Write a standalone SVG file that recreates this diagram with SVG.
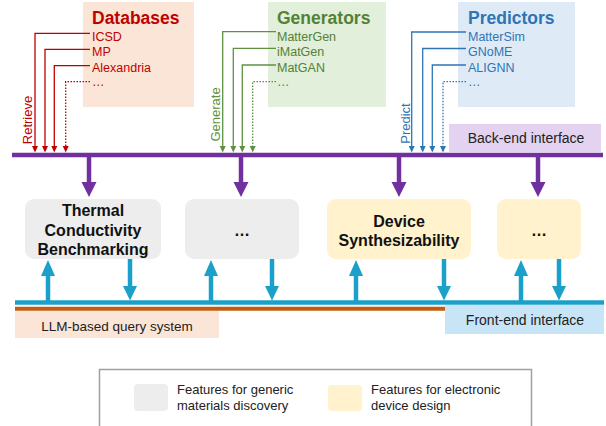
<svg xmlns="http://www.w3.org/2000/svg" width="606" height="426" viewBox="0 0 606 426">
<style>
text{font-family:"Liberation Sans",Arial,sans-serif}
.title{font-size:17.5px;font-weight:bold}
.item{font-size:12.5px}
.rot{font-size:13px}
.node{font-size:16px;font-weight:bold;fill:#111;text-anchor:middle}
.lbl{font-size:14px;fill:#222;text-anchor:middle}
.leg{font-size:13px;fill:#222}
.thin{fill:none;stroke-width:1.3}
.dot{stroke-dasharray:1.5 1.5}
.red{stroke:#c00000}
.grn{stroke:#5f9140}
.blu{stroke:#2e75b6}
.pur{stroke:#7030a0;fill:none;stroke-width:4.5}
.pfill{fill:#7030a0}
.cy{stroke:#1ba1c9;fill:none;stroke-width:4.5}
.cfill{fill:#1ba1c9}
</style>
<g id="databases">
<rect x="83" y="2" width="111" height="105" fill="#fbe5d6"/>
<text class="title" x="92" y="24" fill="#c00000">Databases</text>
<text class="item" x="92" y="40.5" fill="#c00000">ICSD</text>
<text class="item" x="92" y="56" fill="#c00000">MP</text>
<text class="item" x="92" y="71.5" fill="#c00000">Alexandria</text>
<text class="item" x="92" y="86" fill="#c00000">…</text>
</g>
<g id="generators">
<rect x="268" y="2" width="118" height="105" fill="#e2efda"/>
<text class="title" x="277" y="24" fill="#538135">Generators</text>
<text class="item" x="277" y="40.5" fill="#538135">MatterGen</text>
<text class="item" x="277" y="56" fill="#538135">iMatGen</text>
<text class="item" x="277" y="71.5" fill="#538135">MatGAN</text>
<text class="item" x="277" y="86" fill="#538135">…</text>
</g>
<g id="predictors">
<rect x="458" y="2" width="117" height="105" fill="#deebf7"/>
<text class="title" x="468" y="24" fill="#2e75b6">Predictors</text>
<text class="item" x="468" y="40.5" fill="#2e75b6">MatterSim</text>
<text class="item" x="468" y="56" fill="#2e75b6">GNoME</text>
<text class="item" x="468" y="71.5" fill="#2e75b6">ALIGNN</text>
<text class="item" x="468" y="86" fill="#2e75b6">…</text>
</g>
<g id="backend">
<rect x="449" y="124" width="152" height="28" fill="#e3d3f0"/>
<text class="lbl" x="526" y="143">Back-end interface</text>
</g>
<g id="llm">
<rect x="15" y="311" width="204" height="27" fill="#fbe5d6"/>
<text class="lbl" x="117" y="331" style="font-size:13.5px">LLM-based query system</text>
</g>
<g id="frontend">
<rect x="445" y="305" width="159" height="29" fill="#c8e4f7"/>
<text class="lbl" x="525" y="325">Front-end interface</text>
</g>
<g id="node-thermal">
<rect x="25" y="199" width="136" height="60" rx="9" fill="#ededed"/>
<text class="node" x="93" y="216">Thermal</text>
<text class="node" x="93" y="235.5">Conductivity</text>
<text class="node" x="93" y="255">Benchmarking</text>
</g>
<g id="node-generic">
<rect x="185" y="199" width="114" height="60" rx="9" fill="#ededed"/>
<text class="node" x="242" y="236">…</text>
</g>
<g id="node-device">
<rect x="327" y="199" width="144" height="60" rx="9" fill="#fff2cc"/>
<text class="node" x="399" y="226.5">Device</text>
<text class="node" x="399" y="246">Synthesizability</text>
</g>
<g id="node-electronic">
<rect x="497" y="199" width="84" height="60" rx="9" fill="#fff2cc"/>
<text class="node" x="539" y="236">…</text>
</g>
<g id="legend">
<rect x="99.5" y="369.5" width="432" height="70" fill="none" stroke="#a0a0a0" stroke-width="1.5"/>
<rect x="134" y="384" width="34" height="27" rx="4" fill="#ededed"/>
<text class="leg" x="177" y="394">Features for generic</text>
<text class="leg" x="177" y="410">materials discovery</text>
<rect x="328" y="385" width="34" height="26" rx="4" fill="#fff2cc"/>
<text class="leg" x="371" y="394">Features for electronic</text>
<text class="leg" x="371" y="410">device design</text>
</g>
<g id="rot-labels">
<text class="rot" fill="#c00000" text-anchor="middle" transform="translate(31.5,120) rotate(-90)">Retrieve</text>
<text class="rot" fill="#5f9140" text-anchor="middle" transform="translate(219.5,114.5) rotate(-90)">Generate</text>
<text class="rot" fill="#2e75b6" text-anchor="middle" transform="translate(409.5,123.5) rotate(-90)">Predict</text>
</g>
<g id="connectors">
<line x1="12" y1="155" x2="603" y2="155" class="pur"/>
<line x1="15" y1="302.5" x2="604" y2="302.5" class="cy"/>
<line x1="15" y1="308.8" x2="445" y2="308.8" stroke="#c55a11" stroke-width="4"/>
<path class="thin red" d="M90,33.3 H35 V146"/>
<path class="thin red" d="M90,49.3 H45 V146"/>
<path class="thin red" d="M90,65.7 H54.3 V146"/>
<path class="thin red dot" d="M90,81.7 H65.7 V146"/>
<path d="M32,146 H38 L35,152.5 Z M42,146 H48 L45,152.5 Z M51.3,146 H57.3 L54.3,152.5 Z M62.7,146 H68.7 L65.7,152.5 Z" fill="#c00000"/>
<path class="thin grn" d="M276,31.7 H222.7 V146"/>
<path class="thin grn" d="M276,48.3 H233.3 V146"/>
<path class="thin grn" d="M276,65 H242.3 V146"/>
<path class="thin grn dot" d="M276,81.7 H252.7 V146"/>
<path d="M219.7,146 H225.7 L222.7,152.5 Z M230.3,146 H236.3 L233.3,152.5 Z M239.3,146 H245.3 L242.3,152.5 Z M249.7,146 H255.7 L252.7,152.5 Z" fill="#5f9140"/>
<path class="thin blu" d="M466,32 H411.7 V146"/>
<path class="thin blu" d="M466,48.5 H422.7 V146"/>
<path class="thin blu" d="M466,65 H432.3 V146"/>
<path class="thin blu dot" d="M466,81.7 H443 V146"/>
<path d="M408.7,146 H414.7 L411.7,152.5 Z M419.7,146 H425.7 L422.7,152.5 Z M429.3,146 H435.3 L432.3,152.5 Z M440,146 H446 L443,152.5 Z" fill="#2e75b6"/>
<line x1="89" y1="157" x2="89" y2="183" class="pur"/>
<path d="M81.5,182 H96.5 L89,197 Z" class="pfill"/>
<line x1="241" y1="157" x2="241" y2="183" class="pur"/>
<path d="M233.5,182 H248.5 L241,197 Z" class="pfill"/>
<line x1="399" y1="157" x2="399" y2="183" class="pur"/>
<path d="M391.5,182 H406.5 L399,197 Z" class="pfill"/>
<line x1="538" y1="157" x2="538" y2="183" class="pur"/>
<path d="M530.5,182 H545.5 L538,197 Z" class="pfill"/>
<line x1="48" y1="301" x2="48" y2="275" class="cy"/>
<path d="M41,276 H55 L48,260 Z" class="cfill"/>
<line x1="130" y1="259" x2="130" y2="287" class="cy"/>
<path d="M123,286 H137 L130,300.5 Z" class="cfill"/>
<line x1="211" y1="301" x2="211" y2="275" class="cy"/>
<path d="M204,276 H218 L211,260 Z" class="cfill"/>
<line x1="272" y1="259" x2="272" y2="287" class="cy"/>
<path d="M265,286 H279 L272,300.5 Z" class="cfill"/>
<line x1="356" y1="301" x2="356" y2="275" class="cy"/>
<path d="M349,276 H363 L356,260 Z" class="cfill"/>
<line x1="444" y1="259" x2="444" y2="287" class="cy"/>
<path d="M437,286 H451 L444,300.5 Z" class="cfill"/>
<line x1="521" y1="301" x2="521" y2="275" class="cy"/>
<path d="M514,276 H528 L521,260 Z" class="cfill"/>
<line x1="559" y1="259" x2="559" y2="287" class="cy"/>
<path d="M552,286 H566 L559,300.5 Z" class="cfill"/>
</g>
</svg>
